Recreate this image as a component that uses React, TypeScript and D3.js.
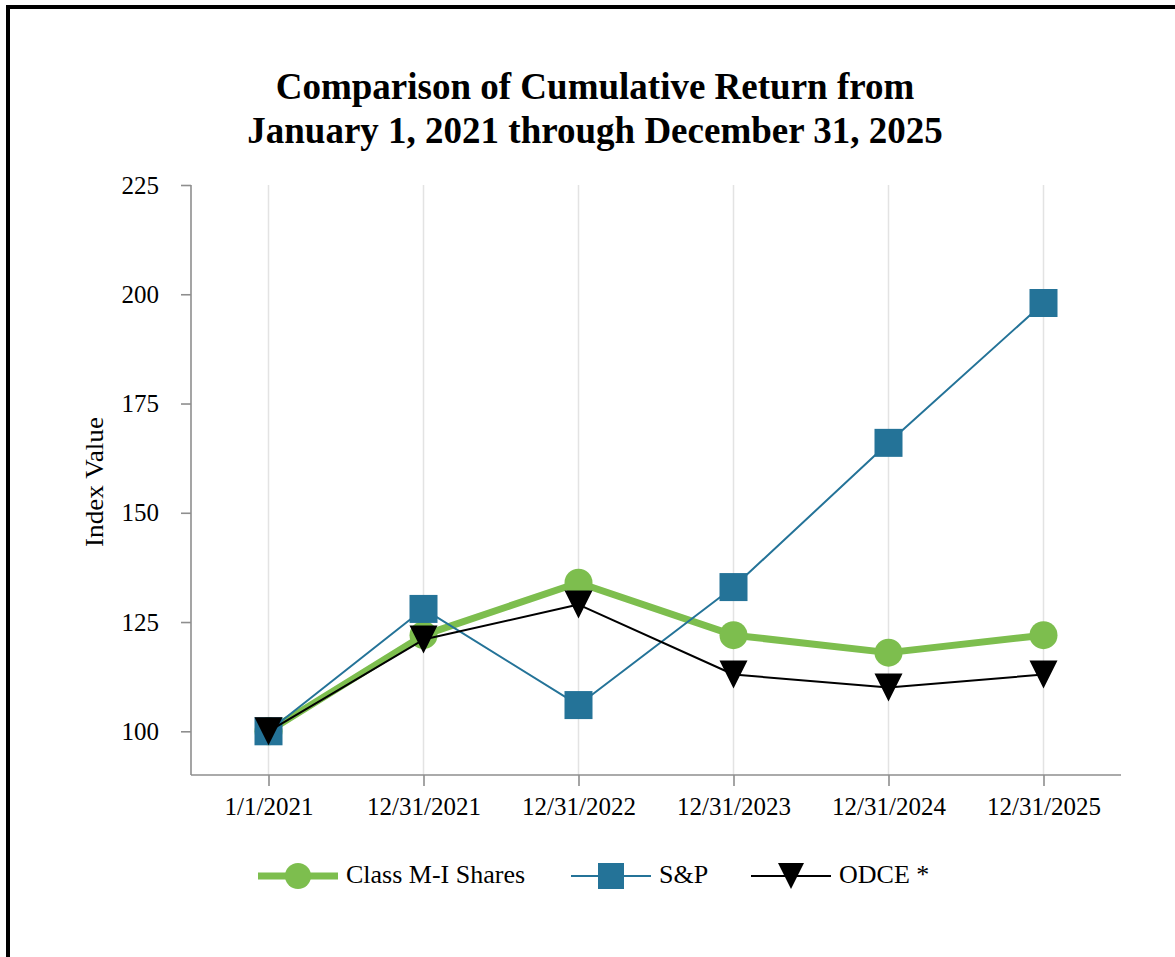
import React, { useEffect, useRef } from 'react';
import * as d3 from 'd3';

// chart data
const categories = ['1/1/2021', '12/31/2021', '12/31/2022', '12/31/2023', '12/31/2024', '12/31/2025'];
const classMI = [100, 122, 134, 122, 118, 122];
const sp = [100, 128, 106, 133, 166, 198];
const odce = [100, 121, 129, 113, 110, 113];
const yTicks = [100, 125, 150, 175, 200, 225];

const seriesNames = ['Class M-I Shares', 'S&P', 'ODCE *'];
const seriesColors = ['#7dbe4e', '#247398', '#000000'];

const FONT = "'Liberation Serif', 'Times New Roman', serif";

// downward triangle marker, s = half size
const tri = (s: number) => `M${-s},${-s}L${s},${-s}L0,${s}Z`;

const App = () => {
  const svgRef = useRef<SVGSVGElement>(null);

  useEffect(() => {
    const svg = d3.select(svgRef.current);
    svg.selectAll('*').remove();

    const W = 1175;
    const H = 957;
    const left = 191, right = 1121, top = 185, bottom = 775;

    // frame
    svg.append('rect')
      .attr('x', 8).attr('y', 7)
      .attr('width', W + 20).attr('height', H + 20)
      .attr('fill', '#fff')
      .attr('stroke', '#000')
      .attr('stroke-width', 4);

    // title
    const title = svg.append('text')
      .attr('text-anchor', 'middle')
      .attr('font-family', FONT)
      .attr('font-weight', 'bold')
      .attr('font-size', 37)
      .attr('fill', '#000');
    title.append('tspan').attr('x', 595).attr('y', 99).text('Comparison of Cumulative Return from');
    title.append('tspan').attr('x', 595).attr('y', 143).text('January 1, 2021 through December 31, 2025');

    const x = d3.scalePoint<string>()
      .domain(categories)
      .range([left, right])
      .padding(0.5);

    const y = d3.scaleLinear()
      .domain([90, 225])
      .range([bottom, top]);

    // vertical gridlines
    svg.append('g')
      .selectAll('line')
      .data(categories)
      .enter().append('line')
      .attr('x1', d => x(d)!).attr('x2', d => x(d)!)
      .attr('y1', top).attr('y2', bottom)
      .attr('stroke', '#e3e3e3')
      .attr('stroke-width', 1.5);

    // axes
    const yAxis = svg.append('g')
      .attr('transform', `translate(${left},0)`)
      .call(d3.axisLeft(y).tickValues(yTicks).tickSize(10).tickPadding(22).tickSizeOuter(0));

    const xAxis = svg.append('g')
      .attr('transform', `translate(0,${bottom})`)
      .call(d3.axisBottom(x).tickSize(11).tickPadding(11).tickSizeOuter(0));

    svg.selectAll('.domain, .tick line')
      .attr('stroke', '#8e8e8e')
      .attr('stroke-width', 1.6);
    yAxis.select('.domain').attr('d', `M0,${top}V${bottom}`);
    xAxis.select('.domain').attr('d', `M${left},0H${right}`);

    svg.selectAll('.tick text')
      .attr('font-family', FONT)
      .attr('font-size', 25)
      .attr('fill', '#000');

    // y label
    svg.append('text')
      .attr('transform', 'translate(103,482) rotate(-90)')
      .attr('text-anchor', 'middle')
      .attr('font-family', FONT)
      .attr('font-size', 26)
      .attr('textLength', 130)
      .attr('lengthAdjust', 'spacingAndGlyphs')
      .text('Index Value');

    const allSeries = [classMI, sp, odce];
    const widths = [7, 2, 2];

    allSeries.forEach((vals, si) => {
      const pts = vals.map((v, i) => ({ cat: categories[i], v }));
      const line = d3.line<{ cat: string; v: number }>()
        .x(d => x(d.cat)!)
        .y(d => y(d.v));

      svg.append('path')
        .datum(pts)
        .attr('d', line)
        .attr('fill', 'none')
        .attr('stroke', seriesColors[si])
        .attr('stroke-width', widths[si])
        .attr('stroke-linejoin', 'round');

      const marks = svg.append('g')
        .selectAll('g')
        .data(pts)
        .enter().append('g')
        .attr('transform', d => `translate(${x(d.cat)},${y(d.v)})`);

      if (si === 0) {
        marks.append('circle').attr('r', 14).attr('fill', seriesColors[si]);
      } else if (si === 1) {
        marks.append('rect')
          .attr('x', -14).attr('y', -14)
          .attr('width', 28).attr('height', 28)
          .attr('fill', seriesColors[si]);
      } else {
        marks.append('path').attr('d', tri(14)).attr('fill', seriesColors[si]);
      }
    });

    // legend
    const legend = svg.append('g').attr('transform', 'translate(258,876)');
    const itemX = [0, 313, 493];
    const lineLen = 80;

    seriesNames.forEach((name, si) => {
      const g = legend.append('g').attr('transform', `translate(${itemX[si]},0)`);
      g.append('line')
        .attr('x1', 0).attr('x2', lineLen)
        .attr('y1', 0).attr('y2', 0)
        .attr('stroke', seriesColors[si])
        .attr('stroke-width', widths[si]);
      const cx = lineLen / 2;
      if (si === 0) {
        g.append('circle').attr('cx', cx).attr('r', 13).attr('fill', seriesColors[si]);
      } else if (si === 1) {
        g.append('rect')
          .attr('x', cx - 13).attr('y', -13)
          .attr('width', 26).attr('height', 26)
          .attr('fill', seriesColors[si]);
      } else {
        g.append('path')
          .attr('transform', `translate(${cx},0)`)
          .attr('d', tri(13))
          .attr('fill', seriesColors[si]);
      }
      g.append('text')
        .attr('x', lineLen + 8)
        .attr('y', 7)
        .attr('font-family', FONT)
        .attr('font-size', 26)
        .text(name);
    });
  }, []);

  return (
    <svg
      ref={svgRef}
      width={1175}
      height={957}
      style={{ position: 'absolute', left: 0, top: 0, background: '#fff' }}
    />
  );
};

export default App;
